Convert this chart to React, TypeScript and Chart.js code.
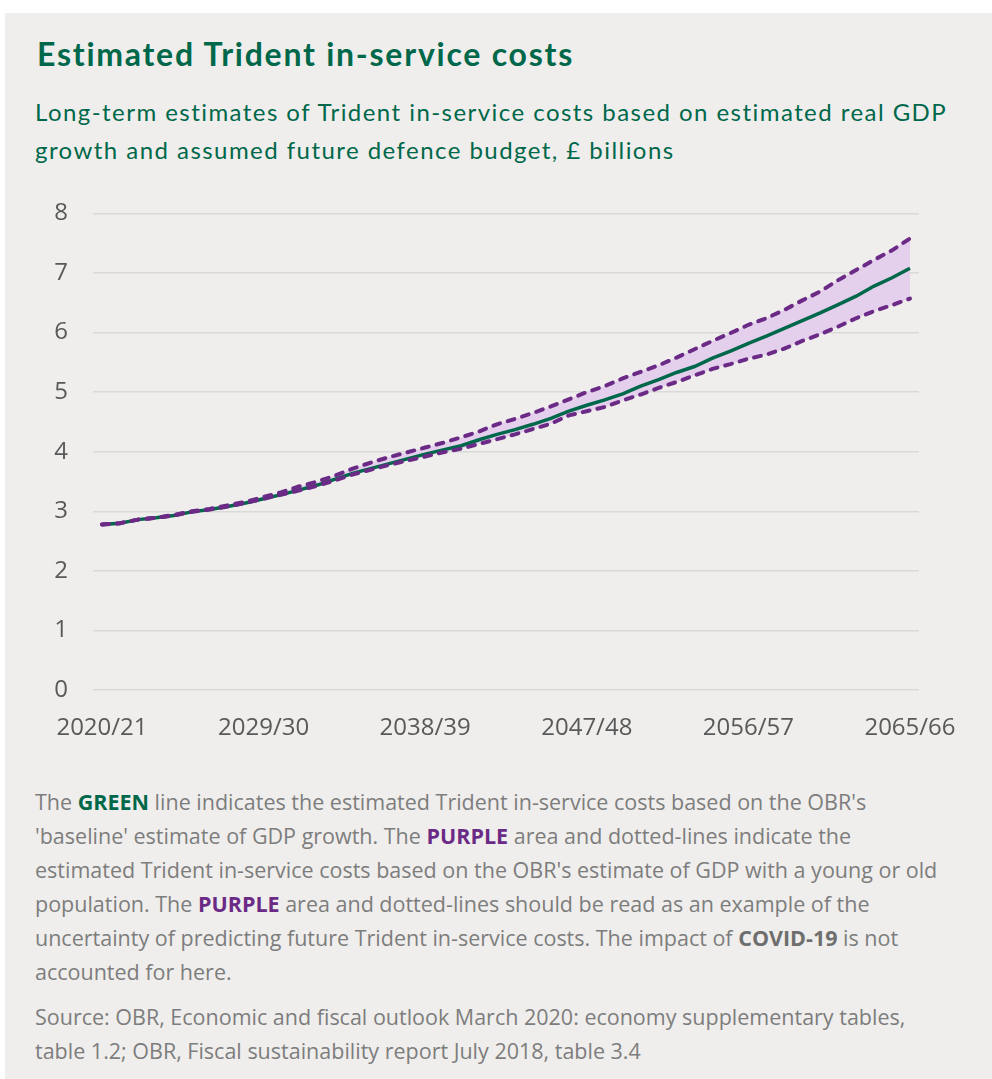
import React, { useEffect, useRef } from "react";
import { Chart, registerables } from "chart.js";

Chart.register(...registerables);

const years: string[] = [
  "2020/21","2021/22","2022/23","2023/24","2024/25","2025/26","2026/27","2027/28","2028/29","2029/30",
  "2030/31","2031/32","2032/33","2033/34","2034/35","2035/36","2036/37","2037/38","2038/39","2039/40",
  "2040/41","2041/42","2042/43","2043/44","2044/45","2045/46","2046/47","2047/48","2048/49","2049/50",
  "2050/51","2051/52","2052/53","2053/54","2054/55","2055/56","2056/57","2057/58","2058/59","2059/60",
  "2060/61","2061/62","2062/63","2063/64","2064/65","2065/66",
];

const baseline: number[] = [
  2.78, 2.80, 2.86, 2.89, 2.93, 2.99, 3.03, 3.08, 3.14, 3.21,
  3.28, 3.36, 3.44, 3.54, 3.64, 3.72, 3.80, 3.88, 3.96, 4.03,
  4.10, 4.20, 4.29, 4.37, 4.46, 4.56, 4.68, 4.78, 4.87, 4.97,
  5.10, 5.21, 5.33, 5.43, 5.57, 5.69, 5.82, 5.94, 6.07, 6.20,
  6.33, 6.47, 6.61, 6.78, 6.92, 7.08,
];

const upper: number[] = [
  2.78, 2.80, 2.86, 2.89, 2.94, 3.00, 3.04, 3.10, 3.16, 3.24,
  3.32, 3.42, 3.50, 3.60, 3.72, 3.82, 3.91, 3.99, 4.07, 4.15,
  4.24, 4.34, 4.46, 4.55, 4.65, 4.76, 4.88, 5.00, 5.10, 5.23,
  5.34, 5.45, 5.58, 5.72, 5.86, 5.99, 6.13, 6.24, 6.38, 6.54,
  6.69, 6.88, 7.05, 7.22, 7.38, 7.58,
];

const lower: number[] = [
  2.78, 2.80, 2.86, 2.89, 2.93, 2.99, 3.03, 3.08, 3.14, 3.21,
  3.28, 3.35, 3.43, 3.52, 3.62, 3.70, 3.78, 3.85, 3.92, 3.99,
  4.05, 4.13, 4.21, 4.29, 4.38, 4.47, 4.61, 4.68, 4.75, 4.86,
  4.96, 5.07, 5.17, 5.28, 5.39, 5.47, 5.56, 5.63, 5.73, 5.86,
  5.97, 6.10, 6.24, 6.36, 6.46, 6.57,
];

const yTicks: number[] = [0, 1, 2, 3, 4, 5, 6, 7, 8];

const GREEN = "#00684A";
const PURPLE = "#6B2A85";
const FILL = "#E4CFEC";
const BG = "#EFEEEC";
const TEXT = "#7D7D7D";

export default function App() {
  const ref = useRef<HTMLCanvasElement | null>(null);

  useEffect(() => {
    if (!ref.current) return;
    const chart = new Chart(ref.current, {
      type: "line",
      data: {
        labels: years,
        datasets: [
          {
            label: "Upper",
            data: upper,
            borderColor: PURPLE,
            backgroundColor: FILL,
            borderWidth: 4,
            borderDash: [7, 8],
            borderCapStyle: "round",
            pointRadius: 0,
            fill: "+1",
            tension: 0,
            order: 0,
          },
          {
            label: "Lower",
            data: lower,
            borderColor: PURPLE,
            borderWidth: 4,
            borderDash: [7, 8],
            borderCapStyle: "round",
            pointRadius: 0,
            fill: false,
            tension: 0,
            order: 0,
          },
          {
            label: "Baseline",
            data: baseline,
            borderColor: GREEN,
            borderWidth: 3.5,
            pointRadius: 0,
            fill: false,
            tension: 0,
            order: 1,
          },
        ],
      },
      options: {
        animation: false,
        responsive: false,
        maintainAspectRatio: false,
        layout: { padding: { left: 0, right: 40, top: 0, bottom: 0 } },
        plugins: {
          legend: { display: false },
          tooltip: { enabled: false },
          filler: { drawTime: "beforeDatasetsDraw" },
        },
        scales: {
          x: {
            offset: true,
            grid: { display: false, drawTicks: false },
            border: { display: false },
            ticks: {
              autoSkip: false,
              maxRotation: 0,
              padding: 24,
              color: "#595959",
              font: { family: "'Open Sans'", size: 24 },
              callback: function (_v: any, i: number) {
                return i % 9 === 0 ? years[i] : null;
              },
            },
            afterFit: (s: any) => {
              s.height = 60;
            },
          },
          y: {
            min: 0,
            max: 8,
            afterBuildTicks: (s: any) => {
              s.ticks = yTicks.map((v) => ({ value: v }));
            },
            grid: { color: "#D9D9D9", lineWidth: 1.5, drawTicks: false },
            border: { display: false },
            ticks: {
              padding: 25,
              color: "#595959",
              font: { family: "'Open Sans'", size: 24 },
            },
            afterFit: (s: any) => {
              s.width = 63;
            },
          },
        },
      },
    });
    return () => chart.destroy();
  }, []);

  const para: React.CSSProperties = {
    position: "absolute",
    left: 30,
    fontFamily: "'Open Sans', sans-serif",
    fontSize: 21.5,
    lineHeight: "34px",
    color: TEXT,
    margin: 0,
    whiteSpace: "nowrap",
  };

  return (
    <div
      style={{
        position: "absolute",
        left: 5,
        top: 13,
        width: 992,
        height: 1066,
        background: BG,
        overflow: "hidden",
      }}
    >
      <div
        style={{
          position: "absolute",
          left: 32,
          top: 22,
          fontFamily: "Lato, sans-serif",
          fontWeight: 700,
          fontSize: 32,
          lineHeight: 1.2,
          letterSpacing: 1.75,
          color: GREEN,
          whiteSpace: "nowrap",
        }}
      >
        Estimated Trident in-service costs
      </div>
      <div
        style={{
          position: "absolute",
          left: 30,
          top: 80,
          fontFamily: "Lato, sans-serif",
          fontSize: 24,
          lineHeight: "38px",
          letterSpacing: 1.45,
          color: GREEN,
          whiteSpace: "nowrap",
        }}
      >
        Long-term estimates of Trident in-service costs based on estimated real GDP
        <br />
        growth and assumed future defence budget, £ billions
      </div>
      <canvas
        ref={ref}
        width={950}
        height={576}
        style={{ position: "absolute", left: 25, top: 161, width: 950, height: 576 }}
      />
      <div style={{ ...para, top: 772 }}>
        The <b style={{ color: GREEN }}>GREEN</b> line indicates the estimated Trident in-service costs based on the OBR's
        <br />
        'baseline' estimate of GDP growth. The <b style={{ color: PURPLE }}>PURPLE</b> area and dotted-lines indicate the
        <br />
        estimated Trident in-service costs based on the OBR's estimate of GDP with a young or old
        <br />
        population. The <b style={{ color: PURPLE }}>PURPLE</b> area and dotted-lines should be read as an example of the
        <br />
        uncertainty of predicting future Trident in-service costs. The impact of <b style={{ color: "#6E6E6E" }}>COVID-19</b> is not
        <br />
        accounted for here.
      </div>
      <div style={{ ...para, top: 987 }}>
        Source: OBR, Economic and fiscal outlook March 2020: economy supplementary tables,
        <br />
        table 1.2; OBR, Fiscal sustainability report July 2018, table 3.4
      </div>
    </div>
  );
}
